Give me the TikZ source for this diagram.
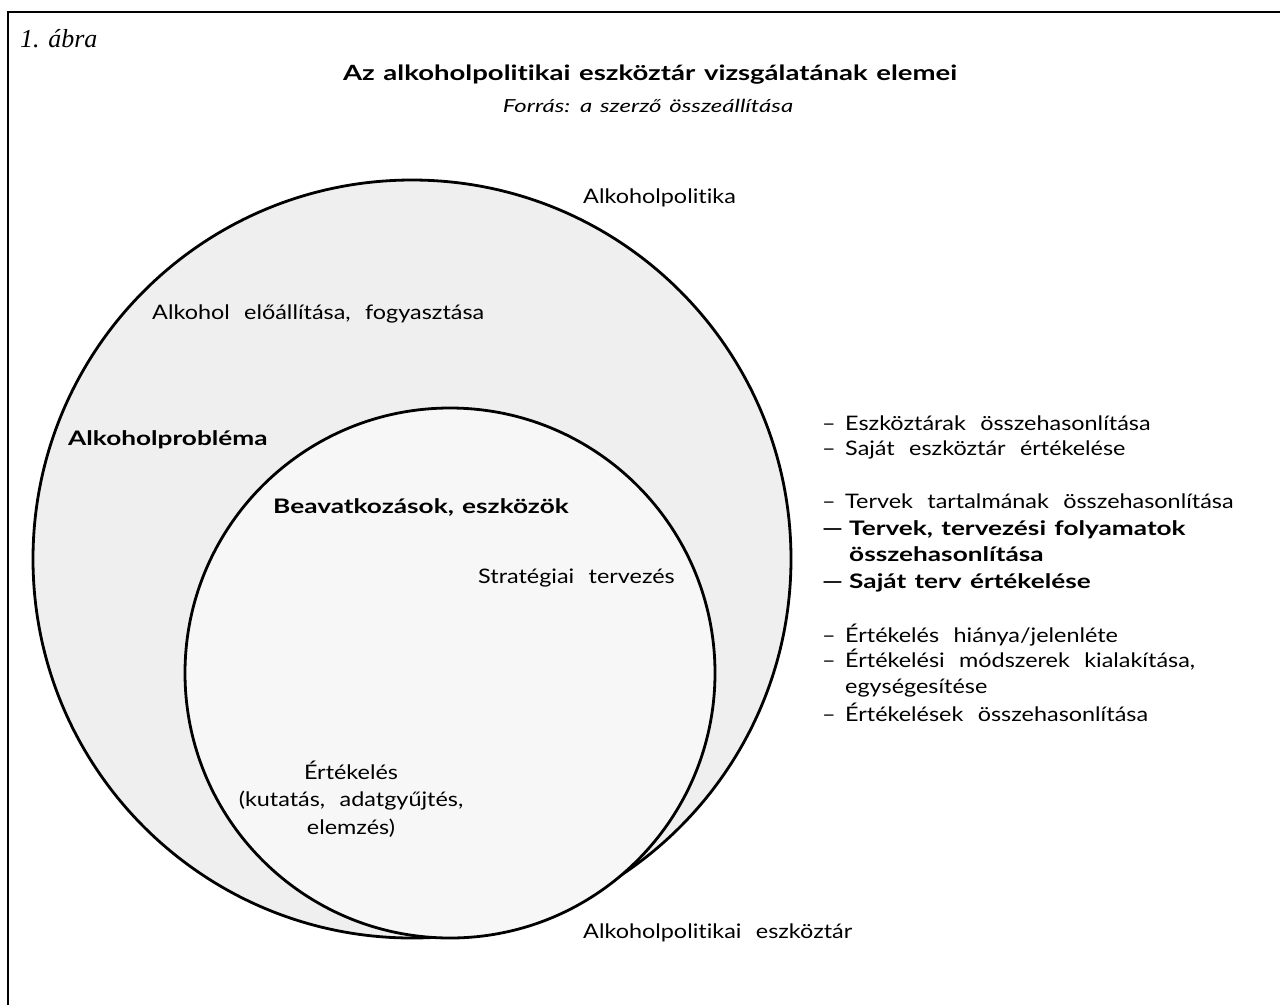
\documentclass[tikz,border=0pt]{standalone}
\usepackage{fontspec}
\setmainfont{Lato}[FakeStretch=1.17, WordSpace=2.4, Ligatures=NoCommon]
\newfontfamily\boldf{Lato}[FakeStretch=1.31, WordSpace=1.3, Ligatures=NoCommon]
\newfontfamily\itf{Lato}[FakeStretch=1.33, WordSpace=1.4, Ligatures=NoCommon]
\newfontfamily\serifit{Liberation Serif}
\definecolor{outerg}{HTML}{EFEFEF}
\definecolor{innerg}{HTML}{F7F7F7}
\begin{document}
\begin{tikzpicture}[x=1pt,y=-1pt,
  txt/.style={anchor=base west, inner sep=0pt, font=\fontsize{20}{25}\selectfont},
  btxt/.style={txt, font=\boldf\bfseries\fontsize{20}{25}\selectfont},
  ring/.style={line width=2.8pt, draw=black}]
\useasboundingbox (0,0) rectangle (1280,1005);
\fill[white] (0,0) rectangle (1280,1005);
\draw[line width=2.8pt] (8,1005) -- (8,12) -- (1280,12);
% circles
\filldraw[ring, fill=outerg] (412,559) circle[radius=379pt];
\filldraw[ring, fill=innerg] (450,673) circle[radius=265pt];
% headings
\node[anchor=base west, inner sep=0pt, font=\serifit\itshape\fontsize{26}{30}\selectfont] (fig) at (20,47) {1. ábra};
\node[anchor=base, inner sep=0pt, font=\boldf\bfseries\fontsize{21}{25}\selectfont] (title) at (650,80) {Az alkoholpolitikai eszköztár vizsgálatának elemei};
\node[anchor=base, inner sep=0pt, font=\itf\itshape\fontsize{18}{22}\selectfont] (src) at (648,112) {Forrás: a szerző összeállítása};
% labels in the diagram
\node[txt] (pol) at (583,203) {Alkoholpolitika};
\node[txt] (prod) at (152,319) {Alkohol előállítása, fogyasztása};
\node[btxt] (prob) at (68,445) {Alkoholprobléma};
\node[btxt] (beav) at (273,513) {Beavatkozások, eszközök};
\node[txt] (strat) at (478,583) {Stratégiai tervezés};
\node[anchor=base, inner sep=0pt, align=center, font=\fontsize{20}{27.5}\selectfont] (ert) at (351,834) {Értékelés\\(kutatás, adatgyűjtés,\\elemzés)};
\node[txt] (eszk) at (583,938) {Alkoholpolitikai eszköztár};
% right list
\newcommand{\rd}{\makebox[23pt][l]{–}}
\newcommand{\bd}{\makebox[27pt][l]{—}}
\node[txt] (l1) at (822,430) {\rd Eszköztárak összehasonlítása};
\node[txt] (l2) at (822,455) {\rd Saját eszköztár értékelése};
\node[txt] (l3) at (822,508) {\rd Tervek tartalmának összehasonlítása};
\node[btxt] (l4) at (822,535) {\bd Tervek, tervezési folyamatok};
\node[btxt] (l4b) at (849,561) {összehasonlítása};
\node[btxt] (l5) at (822,588) {\bd Saját terv értékelése};
\node[txt] (l6) at (822,642) {\rd Értékelés hiánya/jelenléte};
\node[txt] (l7) at (822,667) {\rd Értékelési módszerek kialakítása,};
\node[txt] (l7b) at (845,693) {egységesítése};
\node[txt] (l8) at (822,721) {\rd Értékelések összehasonlítása};
\end{tikzpicture}
\end{document}
